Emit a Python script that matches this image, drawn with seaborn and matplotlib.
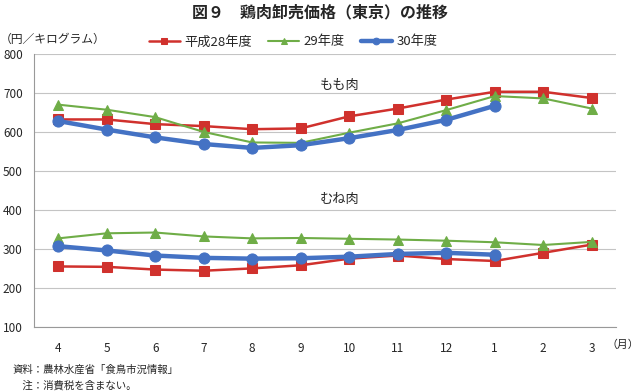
import numpy as np
import pandas as pd
import matplotlib
matplotlib.use("Agg")
import matplotlib.pyplot as plt
import seaborn as sns

MONTHS = ["4", "5", "6", "7", "8", "9", "10", "11", "12", "1", "2", "3"]
YEARS = ["平成28年度", "29年度", "30年度"]

# もも肉 (円/kg)
MOMO_H28 = [632, 632, 620, 615, 607, 609, 640, 660, 683, 703, 703, 687]
MOMO_H29 = [670, 657, 638, 600, 573, 572, 598, 622, 656, 692, 686, 660]
MOMO_H30 = [628, 606, 586, 569, 559, 566, 584, 605, 631, 667, None, None]

# むね肉 (円/kg)
MUNE_H28 = [255, 254, 247, 244, 250, 258, 275, 283, 274, 269, 290, 311]
MUNE_H29 = [327, 340, 342, 332, 327, 328, 326, 324, 321, 317, 310, 318]
MUNE_H30 = [307, 296, 283, 277, 275, 276, 280, 287, 290, 285, None, None]

COLORS = {"平成28年度": "#D0312D", "29年度": "#6FAD47", "30年度": "#4472C4"}
MARKERS = {"平成28年度": "s", "29年度": "^", "30年度": "o"}
WIDTHS = {"平成28年度": 1.8, "29年度": 1.5, "30年度": 3.2}
MSIZE = {"平成28年度": 7, "29年度": 7, "30年度": 8}


def build_frame():
    rows = []
    series = {
        ("もも肉", "平成28年度"): MOMO_H28, ("もも肉", "29年度"): MOMO_H29, ("もも肉", "30年度"): MOMO_H30,
        ("むね肉", "平成28年度"): MUNE_H28, ("むね肉", "29年度"): MUNE_H29, ("むね肉", "30年度"): MUNE_H30,
    }
    for (part, year), vals in series.items():
        for i, v in enumerate(vals):
            if v is not None:
                rows.append({"pos": i, "price": v, "year": year, "part": part})
    return pd.DataFrame(rows)


df = build_frame()

sns.set_style("white")
plt.rcParams["font.family"] = ["Noto Sans CJK JP", "DejaVu Sans"]

fig = plt.figure(figsize=(6.4, 3.91), dpi=100)
ax = fig.add_axes([0.053, 0.164, 0.9095, 0.698])

for part in ["むね肉", "もも肉"]:
    for year in YEARS:
        sub = df[(df["part"] == part) & (df["year"] == year)]
        sns.lineplot(data=sub, x="pos", y="price", ax=ax, color=COLORS[year],
                     marker=MARKERS[year], markersize=MSIZE[year], linewidth=WIDTHS[year],
                     markeredgecolor=COLORS[year], estimator=None, sort=False,
                     label=year if part == "もも肉" else None, zorder=3 if year != "30年度" else 4)

ax.set_xlim(-0.5, 11.5)
ax.set_ylim(100, 800)
ax.set_yticks(range(100, 801, 100))
ax.set_xticks(range(12))
ax.set_xticklabels(MONTHS)
ax.set_xticks(np.arange(-0.5, 12, 1), minor=True)
ax.tick_params(axis="x", which="major", length=0, labelsize=8.5, pad=11)
ax.tick_params(axis="x", which="minor", length=4, color="#999999", direction="out")
ax.tick_params(axis="y", length=0, labelsize=8.5, pad=8)
ax.grid(axis="y", color="#C4C4C4", linewidth=0.8)
ax.set_axisbelow(True)
sns.despine(ax=ax, top=True, right=True)
ax.spines["left"].set_color("#999999")
ax.spines["bottom"].set_color("#999999")
ax.set_xlabel("")
ax.set_ylabel("")

ax.text(5.8, 720, "もも肉", fontsize=9.5, ha="center", va="center")
ax.text(5.8, 426, "むね肉", fontsize=9.5, ha="center", va="center")

leg = ax.legend(loc="center", bbox_to_anchor=(0.445, 1.044), ncol=3, frameon=False,
                fontsize=9.5, handlelength=2.4, columnspacing=1.2, handletextpad=0.3,
                markerscale=0.6, borderaxespad=0.0)

fig.text(0.5, 0.968, "図９　鶏肉卸売価格（東京）の推移", ha="center", va="center",
         fontsize=11.5, fontweight="bold")
fig.text(0.0, 0.9, "（円／キログラム）", ha="left", va="center", fontsize=8.5)
fig.text(0.947, 0.118, "（月）", ha="left", va="center", fontsize=7.8)
fig.text(0.019, 0.054, "資料：農林水産省「食鳥市況情報」", ha="left", va="center", fontsize=7.5)
fig.text(0.019, 0.015, "　注：消費税を含まない。", ha="left", va="center", fontsize=7.5)

fig.savefig("out.png", dpi=100)
